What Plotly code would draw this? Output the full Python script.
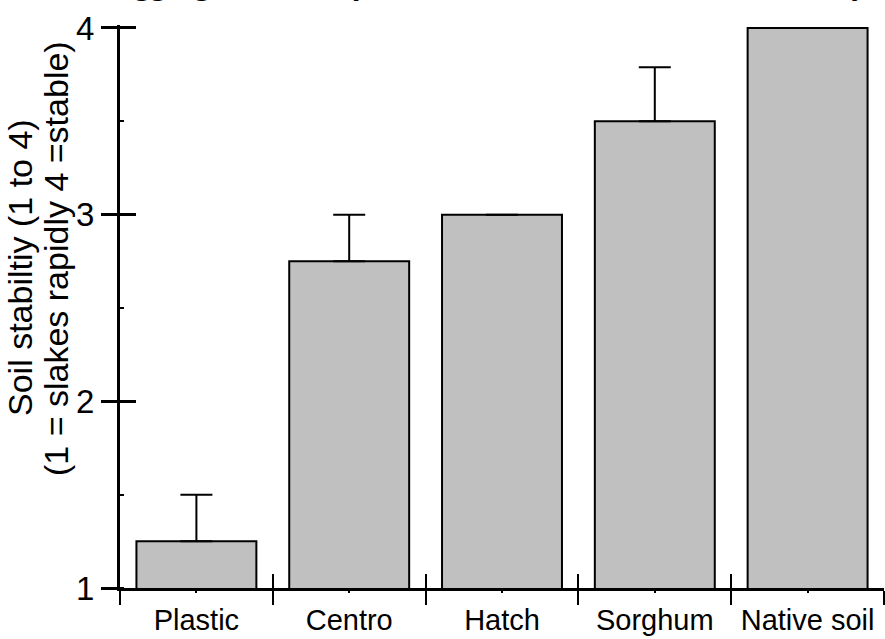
import plotly.graph_objects as go

# Aggregate stability scores (1 = slakes rapidly, 4 = stable) by soil cover
covers = ["Plastic", "Centro", "Hatch", "Sorghum", "Native soil"]
stability = [1.25, 2.75, 3.0, 3.5, 4.0]
stability_err = [0.25, 0.25, 0.0, 0.29, 0.0]
y_ticks = [1, 2, 3, 4]

title_text = "Aggregate stability of soil under each cover in the study"
y_title_1 = "Soil stabiltiy (1 to 4)"
y_title_2 = "(1 = slakes rapidly 4 =stable)"

W, H = 885, 639
ML, MR, MT, MB = 120, 1, 25, 51
plot_w = W - ML - MR
plot_h = H - MT - MB
y_range = [1, 4.016]
x_range = [-0.5, len(covers) - 0.5]


def px_to_paper_x(px):
    return (px - ML) / plot_w


def px_to_paper_y(py):
    return (H - MB - py) / plot_h


sans = "Liberation Sans, Arial, sans-serif"
serif = "Liberation Serif, Times New Roman, serif"

fig = go.Figure()

fig.add_trace(go.Bar(
    x=covers,
    y=stability,
    width=0.785,
    marker=dict(color="#c0c0c0", line=dict(color="black", width=2)),
    error_y=dict(
        type="data",
        symmetric=False,
        array=stability_err,
        arrayminus=[0] * len(covers),
        color="black",
        thickness=2,
        width=16,
    ),
    showlegend=False,
    hoverinfo="skip",
))

# empty trace so the overlay axes (inner tick halves) are created
fig.add_trace(go.Scatter(x=[], y=[], xaxis="x2", yaxis="y2", showlegend=False))

fig.update_layout(
    width=W,
    height=H,
    margin=dict(l=ML, r=MR, t=MT, b=MB, pad=0, autoexpand=False),
    paper_bgcolor="white",
    plot_bgcolor="white",
    bargap=0.2,
    xaxis=dict(
        type="category",
        categoryorder="array",
        categoryarray=covers,
        range=x_range,
        automargin=False,
        showline=True,
        linecolor="black",
        linewidth=3,
        ticks="outside",
        tickson="boundaries",
        ticklen=14,
        tickwidth=2,
        tickcolor="black",
        tickangle=0,
        ticklabelstandoff=4,
        showgrid=False,
        zeroline=False,
        tickfont=dict(family=sans, size=29, color="black"),
        fixedrange=True,
    ),
    yaxis=dict(
        range=y_range,
        tickvals=y_ticks,
        automargin=False,
        showline=True,
        linecolor="black",
        linewidth=3,
        ticks="outside",
        ticklen=16,
        tickwidth=2.5,
        tickcolor="black",
        showgrid=False,
        zeroline=False,
        tickfont=dict(family=sans, size=33, color="black"),
        minor=dict(dtick=0.5, ticks="inside", ticklen=4, tickwidth=2, tickcolor="black"),
        fixedrange=True,
    ),
    xaxis2=dict(
        overlaying="x",
        anchor="y",
        range=x_range,
        automargin=False,
        tickvals=[i - 0.5 for i in range(len(covers) + 1)],
        ticks="inside",
        ticklen=14,
        tickwidth=2,
        tickcolor="black",
        showticklabels=False,
        showline=False,
        showgrid=False,
        zeroline=False,
        minor=dict(tickvals=list(range(len(covers))), ticks="outside",
                   ticklen=4, tickwidth=2, tickcolor="black"),
        fixedrange=True,
    ),
    yaxis2=dict(
        overlaying="y",
        anchor="x",
        side="left",
        range=y_range,
        automargin=False,
        tickvals=y_ticks,
        ticks="inside",
        ticklen=16,
        tickwidth=2.5,
        tickcolor="black",
        showticklabels=False,
        showline=False,
        showgrid=False,
        zeroline=False,
        fixedrange=True,
    ),
)

# title sits mostly above the visible page
fig.add_annotation(
    text="<b>" + title_text + "</b>",
    xref="paper", yref="paper",
    x=px_to_paper_x(109), y=px_to_paper_y(3),
    xanchor="left", yanchor="bottom",
    showarrow=False,
    font=dict(family=serif, size=32, color="black"),
)

# two-line y-axis title
fig.add_annotation(
    text=y_title_1,
    xref="paper", yref="paper",
    x=px_to_paper_x(20), y=px_to_paper_y(268),
    xanchor="center", yanchor="middle",
    textangle=-90, showarrow=False,
    font=dict(family=sans, size=34, color="black"),
)
fig.add_annotation(
    text=y_title_2,
    xref="paper", yref="paper",
    x=px_to_paper_x(56), y=px_to_paper_y(259),
    xanchor="center", yanchor="middle",
    textangle=-90, showarrow=False,
    font=dict(family=sans, size=34, color="black"),
)

fig.write_html("out.html", config={"displayModeBar": False})
